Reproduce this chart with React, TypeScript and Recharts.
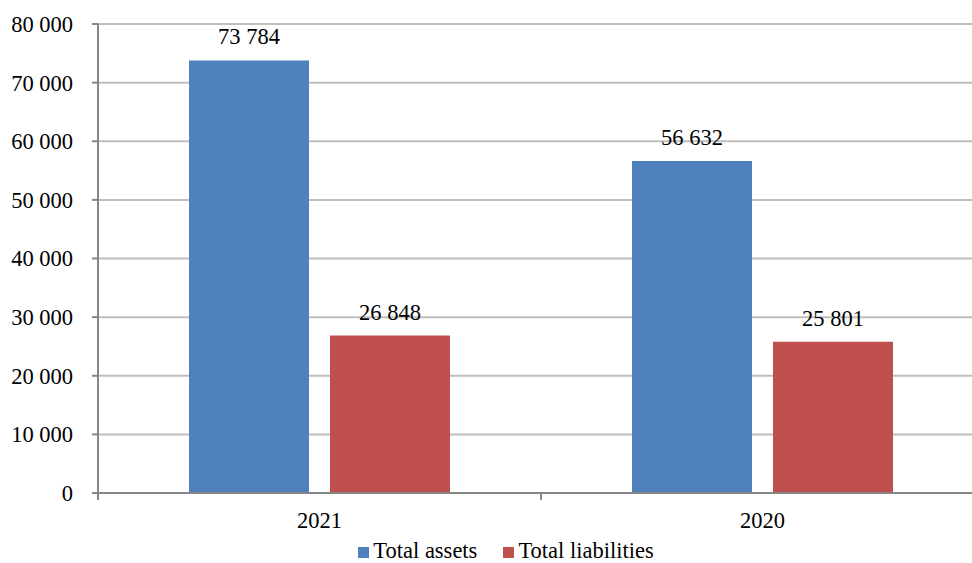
import React from 'react';
import { BarChart, Bar, XAxis, YAxis, CartesianGrid, LabelList } from 'recharts';

const years = ['2021', '2020'];
const totalAssets = [73784, 56632];
const totalLiabilities = [26848, 25801];
const yTicks = [0, 10000, 20000, 30000, 40000, 50000, 60000, 70000, 80000];
const seriesNames = ['Total assets', 'Total liabilities'];
const seriesColors = ['#4F81BD', '#C0504D'];

const data = years.map((y, i) => ({ year: y, assets: totalAssets[i], liabilities: totalLiabilities[i] }));

const FONT = '"Liberation Serif", "Times New Roman", "DejaVu Serif", serif';
const FS = 22.5;
const AXIS = '#868686';
const X_TICK_SIZE = 7;
const X_TICK_MARGIN = 12;
const fmt = (n: number) => String(n).replace(/\B(?=(\d{3})+(?!\d))/g, ' ');

const XTick = (props: any) => {
  const { x, y, payload, index, visibleTicksCount } = props;
  const off = payload && payload.offset ? payload.offset : 0;
  const ay = y - X_TICK_SIZE - X_TICK_MARGIN;
  return (
    <g>
      <line x1={x - off} x2={x - off} y1={ay} y2={ay + X_TICK_SIZE} stroke={AXIS} strokeWidth={2} />
      {index === visibleTicksCount - 1 && (
        <line x1={x + off} x2={x + off} y1={ay} y2={ay + X_TICK_SIZE} stroke={AXIS} strokeWidth={2} />
      )}
      <text x={x} y={y} dy="0.71em" textAnchor="middle" fill="#000" fontFamily={FONT} fontSize={FS}>
        {payload.value}
      </text>
    </g>
  );
};

const LegendBox = () => (
  <div style={{ position: 'absolute', left: 0, top: 539, width: 984, display: 'flex', justifyContent: 'center', paddingLeft: 28, boxSizing: 'border-box', fontFamily: FONT, fontSize: FS, lineHeight: '24px', color: '#000' }}>
    {seriesNames.map((name, i) => (
      <div key={name} style={{ display: 'flex', alignItems: 'center', marginRight: i === 0 ? 26 : 0 }}>
        <span style={{ display: 'inline-block', width: 11, height: 11, background: seriesColors[i], marginRight: 4, marginTop: 3 }} />
        <span>{name}</span>
      </div>
    ))}
  </div>
);

export default function App() {
  return (
    <div style={{ position: 'absolute', left: 0, top: 0, width: 972, height: 563, overflow: 'hidden', background: '#fff', fontFamily: FONT }}>
      <BarChart
        width={984}
        height={563}
        data={data}
        margin={{ top: 24, right: 0, left: 0, bottom: 30 }}
        barSize={120}
        barGap={21}
      >
        <CartesianGrid vertical={false} stroke="#BFBFBF" strokeWidth={2} />
        <XAxis
          dataKey="year"
          height={40}
          tickLine={false}
          axisLine={{ stroke: AXIS, strokeWidth: 2 }}
          tickSize={X_TICK_SIZE}
          tickMargin={X_TICK_MARGIN}
          tick={<XTick />}
        />
        <YAxis
          width={98}
          domain={[0, 80000]}
          ticks={yTicks}
          interval={0}
          tickFormatter={fmt}
          axisLine={{ stroke: AXIS, strokeWidth: 2 }}
          tickLine={{ stroke: AXIS, strokeWidth: 2 }}
          tickSize={6}
          tickMargin={19}
          tick={{ fill: '#000', fontFamily: FONT, fontSize: FS }}
        />
        <Bar dataKey="assets" name={seriesNames[0]} fill={seriesColors[0]} isAnimationActive={false}>
          <LabelList dataKey="assets" position="top" offset={16} formatter={(v: any) => fmt(Number(v))} style={{ fill: '#000', fontFamily: FONT, fontSize: FS }} />
        </Bar>
        <Bar dataKey="liabilities" name={seriesNames[1]} fill={seriesColors[1]} isAnimationActive={false}>
          <LabelList dataKey="liabilities" position="top" offset={16} formatter={(v: any) => fmt(Number(v))} style={{ fill: '#000', fontFamily: FONT, fontSize: FS }} />
        </Bar>
      </BarChart>
      <LegendBox />
    </div>
  );
}
